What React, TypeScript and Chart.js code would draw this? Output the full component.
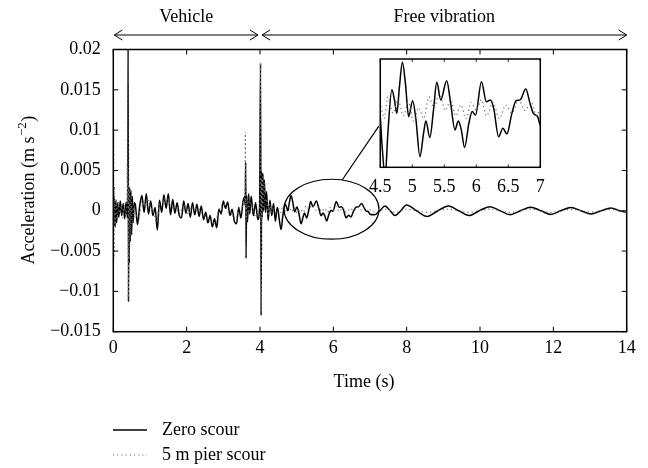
import React, { useEffect, useRef } from 'react';
import { Chart, registerables } from 'chart.js';

Chart.register(...registerables);

const FONT = '"Liberation Serif", "Times New Roman", serif';

// ---------- axis ticks / labels ----------
const xTicks = [0, 2, 4, 6, 8, 10, 12, 14];
const yTicks = [-0.015, -0.01, -0.005, 0, 0.005, 0.01, 0.015, 0.02];
const insetTicks = [4.5, 5, 5.5, 6, 6.5, 7];
const seriesNames = ['Zero scour', '5 m pier scour'];
const phaseLabels = ['Vehicle', 'Free vibration'];
const phaseBounds = [0, 4, 14];
const xTitle = 'Time (s)';
const yTitle = 'Acceleration (m s';
const yTitleSup = '\u22122';

// ---------- series: Zero scour ----------
const timeZero = [
  0, 0.01, 0.02, 0.035, 0.05, 0.07, 0.09, 0.12, 0.15, 0.19, 0.23, 0.27, 0.31, 0.35, 0.38,
  0.395, 0.405, 0.415, 0.425, 0.435, 0.445, 0.46, 0.48, 0.5, 0.52, 0.54, 0.57,
  0.6, 0.66, 0.72, 0.78, 0.84, 0.9, 0.96, 1.02, 1.08, 1.14, 1.2, 1.26, 1.32, 1.38, 1.44, 1.5,
  1.56, 1.62, 1.68, 1.74, 1.8, 1.86, 1.92, 1.98, 2.04, 2.1, 2.16, 2.22, 2.28, 2.34, 2.4, 2.46,
  2.52, 2.58, 2.64, 2.7, 2.76, 2.82, 2.88, 2.94, 3.0, 3.06, 3.12, 3.18, 3.24, 3.3, 3.36, 3.42,
  3.48, 3.54, 3.58, 3.6, 3.61, 3.62, 3.635, 3.66, 3.69, 3.72, 3.76, 3.82, 3.88, 3.94, 3.99,
  4.015, 4.03, 4.045, 4.06, 4.08, 4.1, 4.12, 4.15, 4.18, 4.22, 4.27, 4.32, 4.37, 4.42, 4.47,
  4.5, 4.526, 4.577, 4.619, 4.681, 4.722, 4.758, 4.8, 4.846, 4.893, 4.944, 5.006, 5.058, 5.12,
  5.177, 5.213, 5.275, 5.332, 5.383, 5.445, 5.538, 5.6, 5.667, 5.719, 5.766, 5.817, 5.884,
  5.936, 5.988, 6.081, 6.158, 6.22, 6.272, 6.349, 6.416, 6.478, 6.556, 6.623, 6.685, 6.773,
  6.84, 6.892, 6.959, 7.0,
  7.12, 7.27, 7.41, 7.55, 7.68, 7.84, 7.99, 8.27, 8.56, 8.85, 9.14, 9.42, 9.7, 9.98, 10.27,
  10.55, 10.82, 11.1, 11.38, 11.66, 11.93, 12.2, 12.48, 12.75, 13.03, 13.3, 13.57, 13.8, 14.0,
];
const accZero = [
  0, 0.002, -0.0018, 0.0015, -0.002, 0.0012, -0.0015, 0.001, -0.0008, 0.0012, -0.0006, 0.0009, -0.001, 0.0011, -0.0008,
  0.003, 0.0215, -0.0113, 0.003, -0.0065, 0.0028, -0.0038, 0.0025, -0.003, 0.0018, -0.0015, 0.001,
  0.0008, -0.0017, 0.0006, 0.0019, -0.0002, 0.0021, -0.0004, 0.0012, -0.0006, 0.0004, -0.0024, 0.0013, -0.0002, 0.002, 0.0003, 0.0021,
  -0.0005, 0.0014, -0.0003, 0.001, -0.0006, -0.0009, 0.0012, -0.0003, 0.0009, -0.0008, 0.001, -0.0005, 0.0008, -0.0007, 0.0006, -0.0011,
  -0.0002, -0.0015, -0.0006, -0.002, -0.001, -0.0021, 0.0002, -0.0004, 0.0012, 0.0003, 0.0011, -0.0006, 0.0002, -0.0013, -0.0016, 0.0004,
  -0.0009, 0.0012, 0.0017, 0.0006, 0.006, -0.0059, 0.0019, -0.0014, 0.0021, -0.0004, 0.0018, -0.0006, 0.001, -0.0011, 0.0006,
  0.0183, -0.013, 0.0048, -0.0008, 0.0046, 0.0, 0.0038, -0.0002, 0.0024, -0.0012, 0.0013, -0.0006, 0.0009, -0.0013, 0.0004,
  -0.00013, -0.00111, -0.00234, -0.00074, 0.00086, 0.00049, -0.00001, 0.00098, 0.00188, 0.0011, -0.00013, 0.00046, -0.00025, -0.00161,
  -0.00074, -0.00029, -0.0009, 0.00012, 0.00114, 0.00049, 0.0012, 0.00036, -0.00062, -0.00029, -0.00062, -0.00127, -0.00038,
  0.00006, -0.00007, 0.00116, 0.00042, 0.00049, 0.00018, -0.00087, -0.00056, -0.00077, -0.00001, 0.00046, 0.00049, 0.00089,
  0.00036, -0.00001, -0.00013, -0.00044,
  -0.0005, 0.0, 0.0006, 0.0, -0.0006, 0.0, 0.0007, 0.0, -0.0007, 0.0, 0.0006, 0.0, -0.0006, 0.0, 0.0005,
  0.0, -0.0005, 0.0, 0.00045, 0.0, -0.00045, 0.0, 0.0004, 0.0, -0.0004, 0.0, 0.00035, 0.0, -0.0002,
];

// ---------- series: 5 m pier scour ----------
const timePier = [
  0, 0.01, 0.02, 0.03, 0.05, 0.08, 0.11, 0.14, 0.18, 0.22, 0.26, 0.3, 0.34, 0.37, 0.38, 0.39,
  0.4, 0.41, 0.42, 0.43, 0.45, 0.47, 0.49, 0.52, 0.55, 0.58,
  0.62, 0.7, 0.78, 0.86, 0.94, 1.02, 1.1, 1.18, 1.26, 1.34, 1.42, 1.5, 1.58, 1.66, 1.74, 1.82,
  1.9, 1.98, 2.06, 2.14, 2.22, 2.3, 2.38, 2.46, 2.54, 2.62, 2.7, 2.78, 2.86, 2.94, 3.02, 3.1,
  3.18, 3.26, 3.34, 3.42, 3.5, 3.56, 3.59, 3.6, 3.61, 3.62, 3.64, 3.66, 3.69, 3.72, 3.76, 3.82,
  3.88, 3.94, 4.0, 4.015, 4.03, 4.04, 4.05, 4.07, 4.09, 4.11, 4.14, 4.18, 4.22, 4.27, 4.32, 4.38, 4.44,
  4.5, 4.56, 4.62, 4.7, 4.78, 4.86, 4.94, 5.02, 5.1, 5.18, 5.26, 5.34, 5.42, 5.52, 5.6, 5.68,
  5.76, 5.84, 5.92, 6.0, 6.08, 6.16, 6.26, 6.36, 6.46, 6.56, 6.66, 6.76, 6.86, 6.94, 7.0,
  7.15, 7.4, 7.7, 7.99, 8.27, 8.56, 8.85, 9.14, 9.42, 9.7, 9.98, 10.27, 10.55, 10.82, 11.1,
  11.38, 11.66, 11.93, 12.2, 12.48, 12.75, 13.03, 13.3, 13.57, 13.8, 14.0,
];
const accPier = [
  0, 0.01, -0.0058, 0.003, -0.002, 0.0015, -0.0012, 0.001, -0.0006, 0.0008, -0.0009, 0.0006, -0.0005, 0.0012, 0.0055, 0.001,
  0.0215, -0.011, 0.0035, -0.006, 0.0028, -0.003, 0.0018, -0.002, 0.001, -0.0008,
  -0.0005, -0.001, 0.0012, 0.0006, 0.0015, 0.0004, -0.0002, -0.0015, 0.0008, 0.001, 0.0016, 0.0014, 0.0002, 0.0006, 0.0001, -0.0004,
  0.0008, 0.0004, -0.0005, 0.0006, 0.0002, 0.0004, -0.0002, -0.0006, -0.0007, -0.0011, -0.0014, -0.0016, -0.0001, 0.0006, 0.0009, 0.0001,
  -0.0003, -0.0006, -0.001, 0.0002, 0.0004, 0.0012, 0.002, 0.0098, -0.0055, 0.0015, -0.0012, 0.0018, -0.0005, 0.0012, 0.0008, 0.0002,
  -0.0008, 0.0001, 0.0006, 0.0183, -0.0128, 0.004, -0.0015, 0.0042, -0.0003, 0.0035, 0.0008, 0.0015, -0.0006, 0.0008, -0.0002, 0.0005, -0.0004,
  0.0003, -0.0002, 0.0006, 0.0, 0.0005, -0.0001, 0.0004, -0.0003, 0.0002, -0.0002, 0.0006, 0.0002, 0.0007, 0.0001, 0.0005, -0.0001,
  0.0003, -0.0002, 0.0004, 0.0001, 0.0005, -0.0001, 0.0004, -0.0002, 0.0003, 0.0, 0.0005, 0.0001, 0.0004, -0.0001, 0.0001,
  -0.0002, 0.0002, -0.0002, 0.0002, 0.0, -0.0002, 0.0, 0.0002, 0.0, -0.0002, 0.0, 0.0002, 0.0, -0.0002, 0.0,
  0.0002, 0.0, -0.0002, 0.0, 0.00015, 0.0, -0.00015, 0.0, 0.00015, 0.0, -0.0001,
];

const toPoints = (ts: number[], vs: number[]) => ts.map((t, i) => ({ x: t, y: vs[i] }));

const fmtY = (v: number) => {
  if (Math.abs(v) < 1e-12) return '0';
  return String(Number(v.toFixed(3))).replace('-', '\u2212');
};

const makeDatasets = () => [
  {
    label: seriesNames[0],
    data: toPoints(timeZero, accZero),
    borderColor: '#000',
    borderWidth: 1.5,
    pointRadius: 0,
    cubicInterpolationMode: 'monotone' as const,
    order: 1,
  },
  {
    label: seriesNames[1],
    data: toPoints(timePier, accPier),
    borderColor: '#707070',
    borderWidth: 1.2,
    borderDash: [1.2, 3],
    pointRadius: 0,
    cubicInterpolationMode: 'monotone' as const,
    order: 0,
  },
];

function arrow(ctx: CanvasRenderingContext2D, x1: number, x2: number, y: number) {
  ctx.beginPath();
  ctx.moveTo(x1, y);
  ctx.lineTo(x2, y);
  ctx.moveTo(x1 + 8, y - 5);
  ctx.lineTo(x1, y);
  ctx.lineTo(x1 + 8, y + 5);
  ctx.moveTo(x2 - 8, y - 5);
  ctx.lineTo(x2, y);
  ctx.lineTo(x2 - 8, y + 5);
  ctx.stroke();
}

const mainDecor = {
  id: 'mainDecor',
  afterDraw(chart: any) {
    const { ctx, chartArea: a, scales } = chart;
    const xs = scales.x;
    const ys = scales.y;
    ctx.save();
    ctx.strokeStyle = '#000';
    ctx.fillStyle = '#000';
    // frame
    ctx.lineWidth = 1.5;
    ctx.strokeRect(a.left, a.top, a.right - a.left, a.bottom - a.top);
    // inward ticks
    ctx.lineWidth = 1;
    ctx.beginPath();
    xTicks.forEach((t) => {
      const px = xs.getPixelForValue(t);
      ctx.moveTo(px, a.bottom);
      ctx.lineTo(px, a.bottom - 5);
      ctx.moveTo(px, a.top);
      ctx.lineTo(px, a.top + 5);
    });
    yTicks.forEach((v) => {
      const py = ys.getPixelForValue(v);
      ctx.moveTo(a.left, py);
      ctx.lineTo(a.left + 5, py);
      ctx.moveTo(a.right, py);
      ctx.lineTo(a.right - 5, py);
    });
    ctx.stroke();

    // phase arrows + labels
    ctx.lineWidth = 1;
    ctx.font = `18px ${FONT}`;
    ctx.textAlign = 'center';
    ctx.textBaseline = 'middle';
    for (let i = 0; i < phaseLabels.length; i++) {
      const x1 = xs.getPixelForValue(phaseBounds[i]) + (i === 0 ? 1 : 2);
      const x2 = xs.getPixelForValue(phaseBounds[i + 1]) - (i === 0 ? 2 : 0);
      arrow(ctx, x1, x2, 35);
      ctx.fillText(phaseLabels[i], (x1 + x2) / 2, 17);
    }

    // x title
    ctx.fillText(xTitle, 364, 382);

    // y title with superscript
    const cy = (a.top + a.bottom) / 2;
    ctx.save();
    ctx.translate(34, cy);
    ctx.rotate(-Math.PI / 2);
    ctx.textAlign = 'left';
    ctx.textBaseline = 'alphabetic';
    ctx.font = `18px ${FONT}`;
    const w1 = ctx.measureText(yTitle).width;
    const w3 = ctx.measureText(')').width;
    ctx.font = `13px ${FONT}`;
    const w2 = ctx.measureText(yTitleSup).width;
    const start = -(w1 + w2 + w3) / 2;
    ctx.font = `18px ${FONT}`;
    ctx.fillText(yTitle, start, 0);
    ctx.fillText(')', start + w1 + w2 + 1, 0);
    ctx.font = `13px ${FONT}`;
    ctx.fillText(yTitleSup, start + w1 + 0.5, -8);
    ctx.restore();

    // ellipse highlighting the zoomed region and connector to inset
    const cx = xs.getPixelForValue(5.95);
    const cyE = ys.getPixelForValue(0.00019);
    const rx = xs.getPixelForValue(5.95 + 1.295) - cx;
    const ry = cyE - ys.getPixelForValue(0.00019 + 0.00372);
    ctx.lineWidth = 1.2;
    ctx.beginPath();
    ctx.ellipse(cx, cyE, rx, ry, 0, 0, Math.PI * 2);
    ctx.stroke();
    const th = (-77 * Math.PI) / 180;
    ctx.beginPath();
    ctx.moveTo(cx + rx * Math.cos(th), cyE + ry * Math.sin(th));
    ctx.lineTo(xs.getPixelForValue(7.241), ys.getPixelForValue(0.0105));
    ctx.stroke();

    // legend
    ctx.textAlign = 'left';
    ctx.textBaseline = 'middle';
    ctx.font = `18px ${FONT}`;
    const legY = [430, 455];
    ctx.beginPath();
    ctx.lineWidth = 1.3;
    ctx.strokeStyle = '#000';
    ctx.moveTo(113, legY[0]);
    ctx.lineTo(147, legY[0]);
    ctx.stroke();
    ctx.beginPath();
    ctx.strokeStyle = '#707070';
    ctx.lineWidth = 1.2;
    ctx.setLineDash([1.2, 3]);
    ctx.moveTo(113, legY[1]);
    ctx.lineTo(147, legY[1]);
    ctx.stroke();
    ctx.setLineDash([]);
    ctx.fillStyle = '#000';
    ctx.fillText(seriesNames[0], 162, legY[0]);
    ctx.fillText(seriesNames[1], 162, legY[1]);
    ctx.restore();
  },
};

const insetDecor = {
  id: 'insetDecor',
  beforeDraw(chart: any) {
    const { ctx, chartArea: a } = chart;
    ctx.save();
    ctx.fillStyle = '#fff';
    ctx.fillRect(a.left, a.top, a.right - a.left, a.bottom - a.top);
    ctx.restore();
  },
  afterDraw(chart: any) {
    const { ctx, chartArea: a, scales } = chart;
    ctx.save();
    ctx.strokeStyle = '#000';
    ctx.lineWidth = 1.5;
    ctx.strokeRect(a.left, a.top, a.right - a.left, a.bottom - a.top);
    ctx.lineWidth = 0.8;
    ctx.beginPath();
    insetTicks.forEach((t) => {
      const px = scales.x.getPixelForValue(t);
      ctx.moveTo(px, a.top);
      ctx.lineTo(px, a.top + 3);
      ctx.moveTo(px, a.bottom);
      ctx.lineTo(px, a.bottom - 3);
    });
    ctx.stroke();
    ctx.restore();
  },
};

export default function App() {
  const mainRef = useRef<HTMLCanvasElement>(null);
  const insetRef = useRef<HTMLCanvasElement>(null);

  useEffect(() => {
    const main = new Chart(mainRef.current as HTMLCanvasElement, {
      type: 'line',
      data: { datasets: makeDatasets() as any },
      options: {
        responsive: false,
        animation: false,
        events: [],
        layout: { padding: { left: 0, right: 21.3, top: 49.5, bottom: 86.3 } },
        plugins: { legend: { display: false }, tooltip: { enabled: false } },
        scales: {
          x: {
            type: 'linear',
            min: 0,
            max: 14,
            afterBuildTicks: (s: any) => {
              s.ticks = xTicks.map((v) => ({ value: v }));
            },
            afterFit: (s: any) => {
              s.height = 50;
            },
            grid: { display: false, drawTicks: false },
            border: { display: false },
            ticks: {
              color: '#000',
              font: { family: FONT, size: 18 },
              padding: 6,
              maxRotation: 0,
              autoSkip: false,
              callback: (v: any) => String(v),
            },
          },
          y: {
            type: 'linear',
            min: -0.015,
            max: 0.02,
            afterBuildTicks: (s: any) => {
              s.ticks = yTicks.map((v) => ({ value: v }));
            },
            afterFit: (s: any) => {
              s.width = 113.3;
            },
            grid: { display: false, drawTicks: false },
            border: { display: false },
            ticks: {
              color: '#000',
              font: { family: FONT, size: 18 },
              padding: 12.5,
              autoSkip: false,
              callback: (v: any) => fmtY(Number(v)),
            },
          },
        },
      },
      plugins: [mainDecor],
    });

    const inset = new Chart(insetRef.current as HTMLCanvasElement, {
      type: 'line',
      data: { datasets: makeDatasets() as any },
      options: {
        responsive: false,
        animation: false,
        events: [],
        layout: { padding: { left: 19, right: 19.7, top: 9, bottom: 0 } },
        plugins: { legend: { display: false }, tooltip: { enabled: false } },
        scales: {
          x: {
            type: 'linear',
            min: 4.5,
            max: 7,
            afterBuildTicks: (s: any) => {
              s.ticks = insetTicks.map((v) => ({ value: v }));
            },
            afterFit: (s: any) => {
              s.height = 32.7;
            },
            grid: { display: false, drawTicks: false },
            border: { display: false },
            ticks: {
              color: '#000',
              font: { family: FONT, size: 18 },
              padding: 9,
              maxRotation: 0,
              autoSkip: false,
              callback: (v: any) => String(v),
            },
          },
          y: {
            type: 'linear',
            display: false,
            min: -0.002,
            max: 0.002,
          },
        },
      },
      plugins: [insetDecor],
    });

    return () => {
      main.destroy();
      inset.destroy();
    };
  }, []);

  return (
    <div style={{ position: 'fixed', left: 0, top: 0, width: 648, height: 468, background: '#fff' }}>
      <canvas
        ref={mainRef}
        width={648}
        height={468}
        style={{ position: 'absolute', left: 0, top: 0, width: 648, height: 468 }}
      />
      <canvas
        ref={insetRef}
        width={200}
        height={150}
        style={{ position: 'absolute', left: 360, top: 50, width: 200, height: 150 }}
      />
    </div>
  );
}
